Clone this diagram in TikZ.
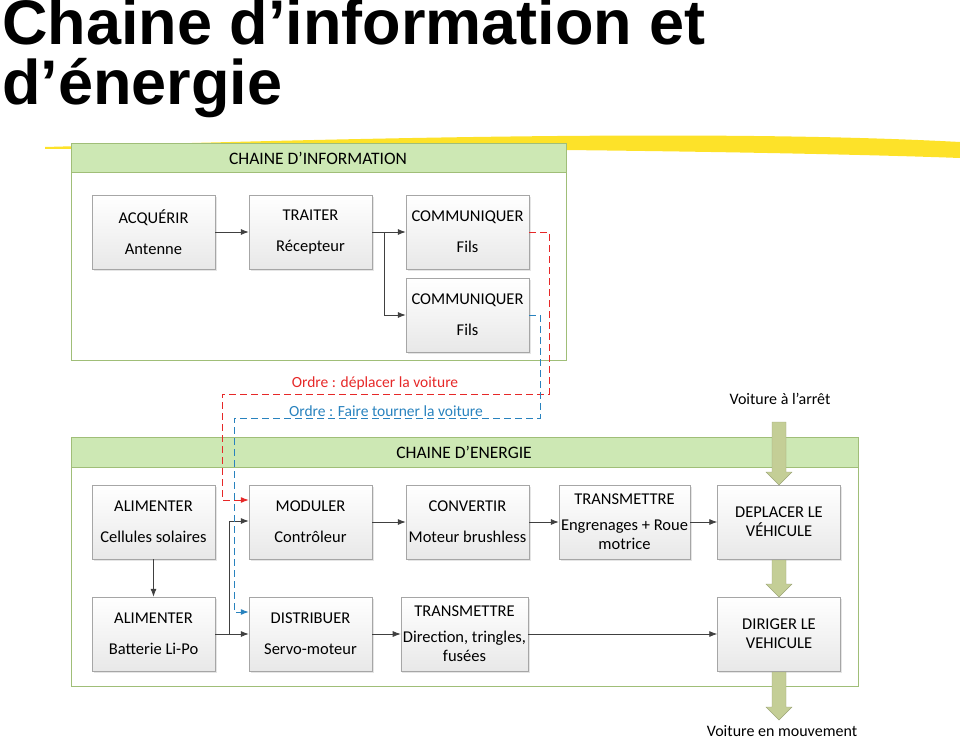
\documentclass[tikz,border=0pt]{standalone}
\usepackage{fontspec}
\setmainfont{Carlito}
\newfontfamily\titlefont{Liberation Sans}
\usetikzlibrary{calc,positioning,shadows}
\usetikzlibrary{arrows.meta}
\definecolor{frameline}{RGB}{160,190,120}
\definecolor{headfill}{RGB}{205,232,180}
\definecolor{bigarrow}{RGB}{196,206,150}
\definecolor{redord}{RGB}{230,40,40}
\definecolor{blueord}{RGB}{40,130,190}
\tikzset{>={Latex[length=8pt,width=6pt]}}
\newcommand{\flowarrow}[3]{% x, top, bottom
  \filldraw[bigarrow!80!black, fill=bigarrow] (#1-7,#2) -- (#1+7,#2) -- (#1+7,#3-13) -- (#1+13,#3-13) -- (#1,#3) -- (#1-13,#3-13) -- (#1-7,#3-13) -- cycle;}

\begin{document}
\begin{tikzpicture}[x=1pt,y=-1pt]
  \tikzstyle{block} = [draw=gray!70, top color=white, bottom color=gray!18, minimum width=123pt, minimum height=74pt, align=center, inner sep=2pt, font=\fontsize{16.5}{19}\selectfont, drop shadow={shadow xshift=1.5pt, shadow yshift=-1.5pt, fill=gray!40}]
  \tikzstyle{chain} = [draw=frameline, line width=0.8pt]
  \tikzstyle{head} = [fill=headfill, draw=frameline, line width=0.8pt]
  \tikzstyle{link} = [->, draw=black!75, line width=0.8pt]
  \tikzstyle{order} = [->, dashed, dash pattern=on 7pt off 4pt, line width=1pt]
  \useasboundingbox (0,0) rectangle (960,738);

  % title
  \node[anchor=base west, inner sep=0pt, font=\titlefont\bfseries\fontsize{63}{70}\selectfont] (title1) at (2,45) {Chaine d’information et};
  \node[anchor=base west, inner sep=0pt, font=\titlefont\bfseries\fontsize{63}{70}\selectfont] (title2) at (2,105) {d’énergie};
  \fill[yellow!80!orange, opacity=0.85] (45,147) .. controls (300,140) and (700,128) .. (960,142) -- (960,158) .. controls (800,152) and (400,146) .. (45,149) -- cycle;

  % chaine d'information
  \draw[chain] (71,143) rectangle (566,360);
  \draw[head] (71,143) rectangle (566,172);
  \node[font=\fontsize{17.5}{20}\selectfont] (infotitle) at (318,158) {CHAINE D’INFORMATION};
  \node[block] (acq) at (153.5,232) {ACQUÉRIR\\[12pt]Antenne};
  \node[block] (trait) at (310.5,232) {TRAITER\\[12pt]Récepteur};
  \node[block] (com1) at (467.5,232) {COMMUNIQUER\\[12pt]Fils};
  \node[block] (com2) at (467.5,315) {COMMUNIQUER\\[12pt]Fils};
  \coordinate (split) at (384,232);
  \draw[link] (acq) -- (trait);
  \draw[link] (trait) -- (com1);
  \draw[link] (split) |- (com2);

  % chaine d'energie
  \draw[chain] (71,437) rectangle (858,686);
  \draw[head] (71,437) rectangle (858,467);
  \node[font=\fontsize{17.5}{20}\selectfont] (enertitle) at (464,452) {CHAINE D’ENERGIE};
  \node[block] (alim1) at (153.5,522) {ALIMENTER\\[12pt]Cellules solaires};
  \node[block] (modul) at (310.5,522) {MODULER\\[12pt]Contrôleur};
  \node[block] (conv) at (467.5,522) {CONVERTIR\\[12pt]Moteur brushless};
  \node[block] (trans1) at (624.5,522) {TRANSMETTRE\\[7pt]Engrenages + Roue\\motrice};
  \node[block] (depl) at (779,522) {DEPLACER LE\\VÉHICULE};
  \node[block] (alim2) at (153.5,634) {ALIMENTER\\[12pt]Batterie Li-Po};
  \node[block] (distr) at (310.5,634) {DISTRIBUER\\[12pt]Servo-moteur};
  \node[block] (trans2) at (464.5,634) {TRANSMETTRE\\[7pt]Direction, tringles,\\fusées};
  \node[block] (dirig) at (779,634) {DIRIGER LE\\VEHICULE};
  \coordinate (feed) at (229,634);
  \draw[link] (alim1) -- (alim2);
  \draw[link] (alim2) -- (distr);
  \draw[link] (feed) |- (229,521) -- ($(modul.west)+(0,-1)$);
  \draw[link] (modul) -- (conv);
  \draw[link] (conv) -- (trans1);
  \draw[link] (trans1) -- (depl);
  \draw[link] (distr) -- (trans2);
  \draw[link] (trans2) -- (dirig);

  % ordres
  \draw[order, redord] (com1.east) -- (549,232) -- (549,394) -- (222,394) -- (222,500) -- ($(modul.west)+(0,-22)$);
  \draw[order, blueord] (com2.east) -- (540,315) -- (540,418) -- (234,418) -- (234,612) -- ($(distr.west)+(0,-22)$);
  \node[text=redord, font=\fontsize{15.5}{18}\selectfont] (ordre1) at (375,383) {Ordre : déplacer la voiture};
  \node[text=blueord, font=\fontsize{15.5}{18}\selectfont] (ordre2) at (386,411) {Ordre : Faire tourner la voiture};

  % flux
  \node[font=\fontsize{16}{18}\selectfont] (arret) at (780,399) {Voiture à l’arrêt};
  \node[font=\fontsize{16}{18}\selectfont] (mouv) at (782,731) {Voiture en mouvement};
  \flowarrow{779}{422}{485}
  \flowarrow{779}{560}{597}
  \flowarrow{779}{672}{720}
\end{tikzpicture}
\end{document}
